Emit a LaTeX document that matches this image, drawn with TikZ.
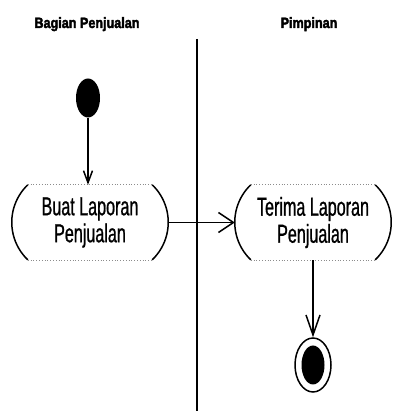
\documentclass[tikz,border=0pt]{standalone}
\usepackage{fontspec}
\setmainfont{Liberation Sans}
\newfontfamily\actfont[FakeStretch=0.62,FakeBold=0.8]{Liberation Sans}
\newfontfamily\headfont[FakeStretch=0.84,FakeBold=2.4]{Liberation Sans Bold}
\usetikzlibrary{arrows.meta,shapes.geometric}
\tikzset{
  lanehead/.style={font=\headfont\fontsize{15}{15}\selectfont, anchor=base, inner sep=0pt},
  activity/.style={minimum width=156pt, minimum height=75pt, inner sep=0pt, align=center,
                   font=\actfont\fontsize{26}{27}\selectfont},
  actside/.style={line width=1.5pt, black},
  actedge/.style={line width=0.8pt, black!45, dotted},
  flow/.style={line width=1.5pt, black},
  lane/.style={line width=1.4pt, black},
  startnode/.style={ellipse, fill=black, minimum width=24pt, minimum height=39pt, inner sep=0pt},
}
% draws the two curved sides and the flat edges of an activity node
\newcommand{\activityoutline}[1]{%
  \draw[actedge] ([xshift=16pt]#1.north west) -- ([xshift=-16pt]#1.north east);
  \draw[actedge] ([xshift=16pt]#1.south west) -- ([xshift=-16pt]#1.south east);
  \draw[actside] ([xshift=16pt]#1.north west) arc[start angle=133.7, end angle=226.3, radius=51.9pt];
  \draw[actside] ([xshift=-16pt]#1.north east) arc[start angle=46.3, end angle=-46.3, radius=51.9pt];
}
\begin{document}
\begin{tikzpicture}[x=1pt,y=-1pt]
  \useasboundingbox (0,0) rectangle (415,411);
  \fill[white] (0,0) rectangle (415,411);

  % swimlane headings and divider
  \node[lanehead] (sales) at (87,28) {Bagian Penjualan};
  \node[lanehead] (boss) at (309,28) {Pimpinan};
  \coordinate (laneTop) at (197,39);
  \coordinate (laneBot) at (197,411);
  \draw[lane] (laneTop) -- (laneBot);

  % start node
  \node[startnode] (start) at (88,98) {};

  % activities
  \node[activity] (buat) at (90,222.5) {Buat Laporan\\Penjualan};
  \node[activity] (terima) at (313,222.5) {Terima Laporan\\Penjualan};
  \activityoutline{buat}
  \activityoutline{terima}

  % final node
  \node[ellipse, draw, line width=1.5pt, minimum width=36pt, minimum height=54pt, inner sep=0pt] (end) at (313,365) {};
  \node[startnode, minimum width=23pt, minimum height=39pt] (endDot) at (end.center) {};

  % control flows
  \draw[flow, -{Straight Barb[length=12pt,width=9pt]}] (start.south) -- (start.south |- buat.north);
  \draw[flow, -{Straight Barb[length=15pt,width=20pt]}] (buat.east) -- (terima.west);
  \draw[flow, -{Straight Barb[length=20pt,width=14pt]}] (terima.south) -- (end.north);
\end{tikzpicture}
\end{document}
